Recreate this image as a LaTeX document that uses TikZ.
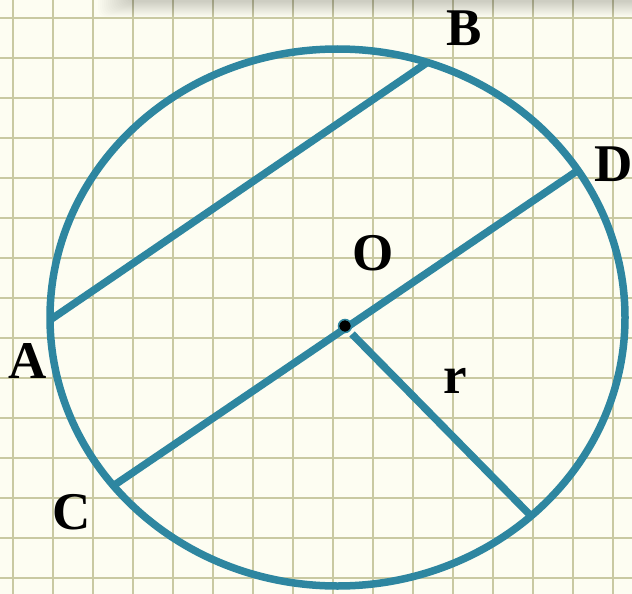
\documentclass[tikz,border=0pt]{standalone}
\usepackage{fontspec}
\setmainfont{Liberation Serif}
\definecolor{bgc}{HTML}{FDFDF2}
\definecolor{gridc}{HTML}{C9C9A2}
\definecolor{tealc}{HTML}{2E86A0}
\tikzset{
  gridline/.style={draw=gridc, line width=2pt},
  stroke/.style={draw=tealc, line width=7.5pt},
  lbl/.style={font=\fontsize{53}{53}\selectfont\bfseries, inner sep=0pt, text=black},
}
\begin{document}
\begin{tikzpicture}[x=1pt,y=-1pt]
\useasboundingbox (0,0) rectangle (632,594);
\fill[bgc] (0,0) rectangle (632,594);
% grid
\foreach \i in {0,...,15} {
  \draw[gridline] ({13.3+40*\i},0) -- ({13.3+40*\i},594);
}
\foreach \j in {0,...,14} {
  \draw[gridline] (0,{18.3+40*\j}) -- (632,{18.3+40*\j});
}
% top shadow
\foreach \k in {0,...,15} {
  \fill[black, opacity=0.013, rounded corners=8pt] ({98+2*\k},-20) rectangle (660,{17-\k});
}
% points
\coordinate (A) at (50,320);
\coordinate (B) at (428,62);
\coordinate (C) at (113,486);
\coordinate (D) at (577,171);
\coordinate (O) at (345,326);
\coordinate (Ostart) at (352,334);
\coordinate (R) at (532,517);
% circle
\draw[stroke] (337.5,317.5) ellipse [x radius=287.5, y radius=268.5];
% chords and radius
\draw[stroke] (A) -- (B);
\draw[stroke] (C) -- (D);
\draw[stroke] (Ostart) -- (R);
% center
\fill[black] (O) circle (6);
\draw[tealc, line width=1.5pt] (O) circle (6.5);
% labels
\node[lbl] (lA) at (28,361) {A};
\node[lbl] (lB) at (464,28) {B};
\node[lbl] (lC) at (72,512) {C};
\node[lbl] (lD) at (614,164) {D};
\node[lbl] (lO) at (373,253) {O};
\node[lbl] (lr) at (455,381) {r};
\end{tikzpicture}
\end{document}
